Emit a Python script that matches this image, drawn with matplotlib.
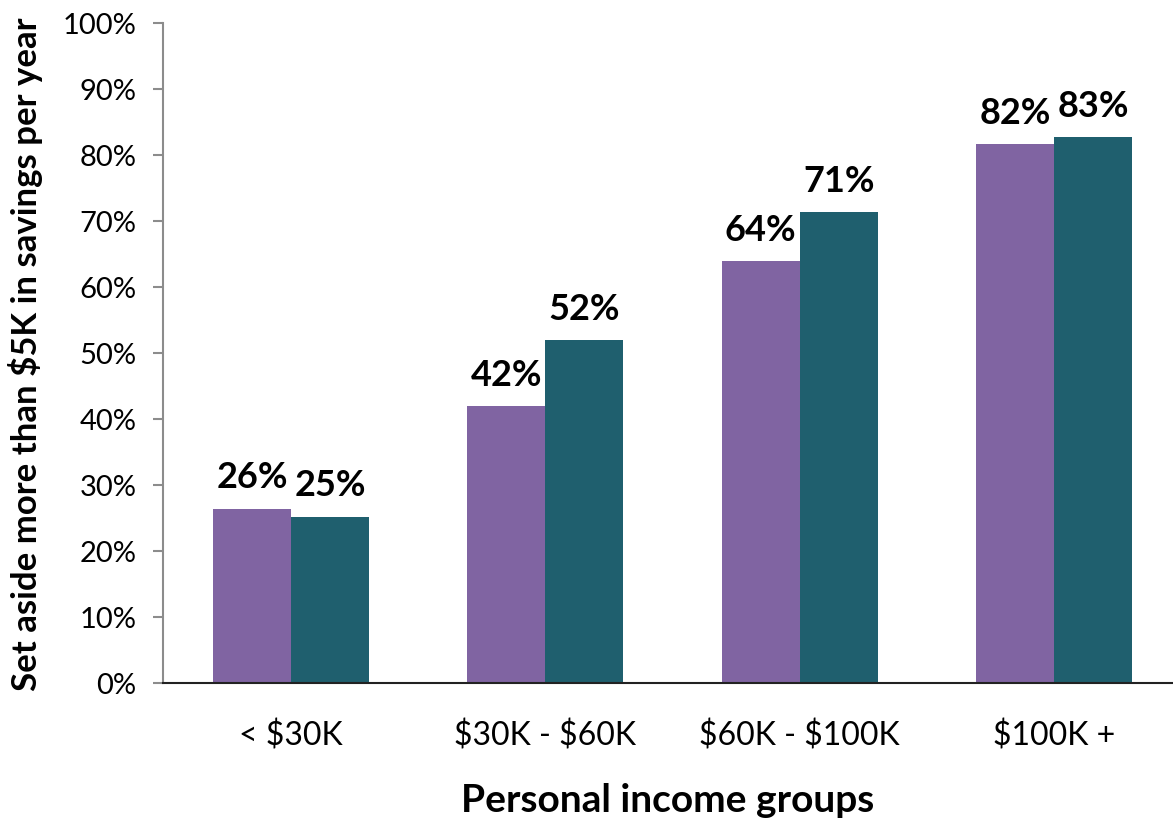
import numpy as np
import matplotlib

matplotlib.use("Agg")
import matplotlib.pyplot as plt

# savings share by personal income group, two survey series
groups = ["< $30K", "$30K - $60K", "$60K - $100K", "$100K +"]
series_a = [26.4, 41.9, 63.9, 81.6]
series_b = [25.2, 51.9, 71.3, 82.7]

plt.rcParams["font.family"] = ["Lato", "DejaVu Sans"]
plt.rcParams["text.parse_math"] = False

W, H = 1173, 820
fig = plt.figure(figsize=(W / 100, H / 100), dpi=100)
ax = fig.add_axes([163 / W, (H - 684) / H, (W - 163) / W, 660 / H])

x = np.arange(len(groups))
bw = 0.307
ax.bar(x - bw / 2, series_a, bw, color="#8064A2")
ax.bar(x + bw / 2, series_b, bw, color="#1F5F6E")

for xs, vals in [(x - bw / 2, series_a), (x + bw / 2, series_b)]:
    for xi, v in zip(xs, vals):
        ax.annotate(f"{v:.0f}%", (xi, v), xytext=(0, 11), textcoords="offset points",
                    ha="center", va="bottom", fontsize=26, fontweight="bold")

ax.set_xlim(-0.503, 3.468)
ax.set_ylim(0, 100)
ax.set_yticks(range(0, 101, 10))
ax.set_yticklabels([f"{t}%" for t in range(0, 101, 10)], fontsize=21)
ax.set_xticks(x)
ax.set_xticklabels(groups, fontsize=23)
ax.tick_params(axis="x", length=0, pad=26)
ax.tick_params(axis="y", length=7, width=1.5, color="#8c8c8c", pad=12)

for s in ["top", "right"]:
    ax.spines[s].set_visible(False)
ax.spines["left"].set_color("#8c8c8c")
ax.spines["left"].set_linewidth(1.5)
ax.spines["bottom"].set_color("#222222")
ax.spines["bottom"].set_linewidth(1.5)

ax.set_ylabel("Set aside more than $5K in savings per year", fontsize=25,
              fontweight="bold", labelpad=14)
ax.set_xlabel("Personal income groups", fontsize=28, fontweight="bold", labelpad=23)

fig.savefig("out.png", dpi=100)
